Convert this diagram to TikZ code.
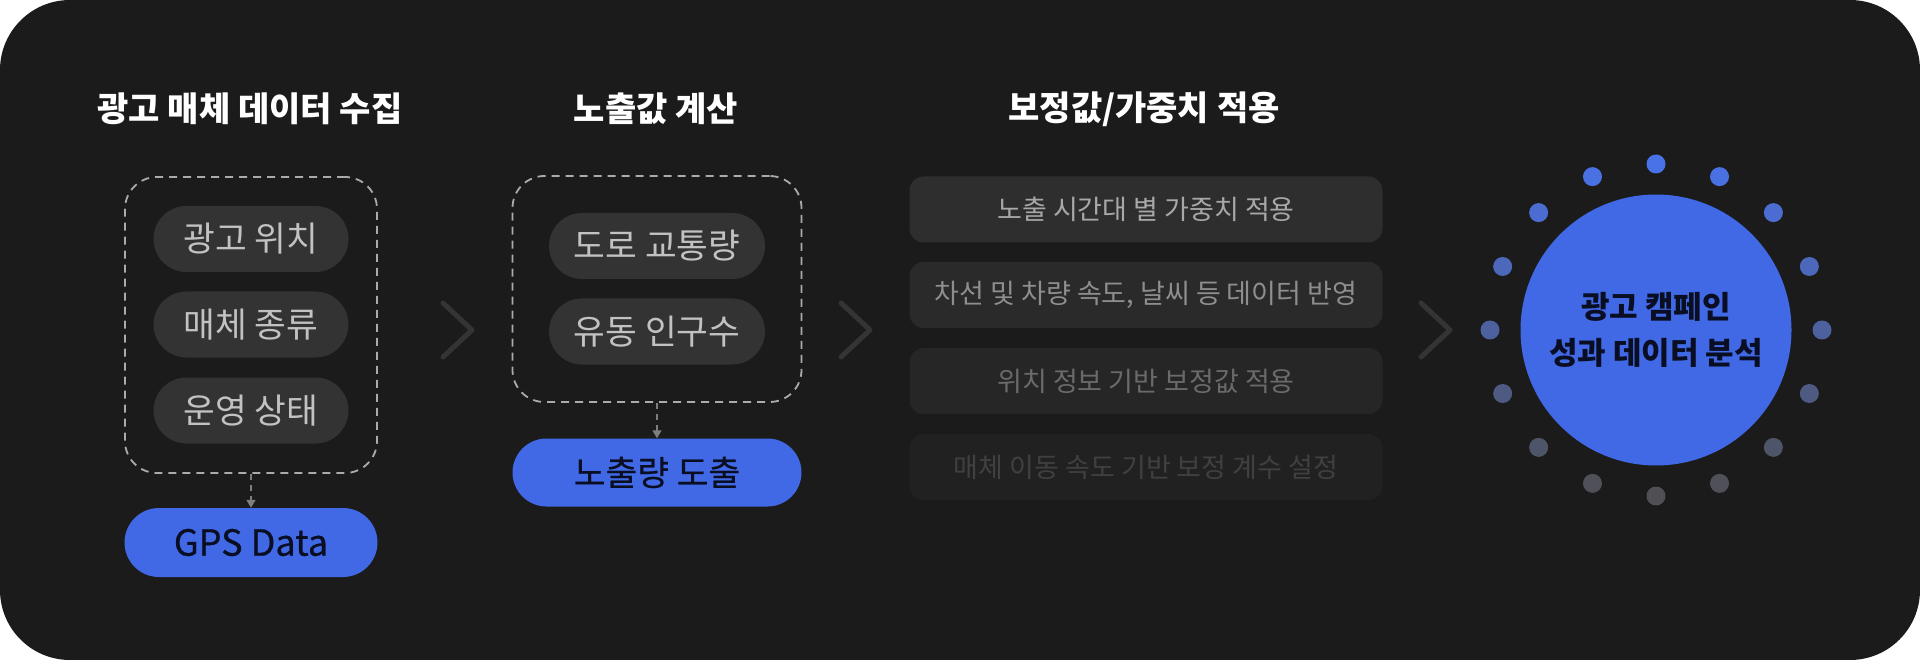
\documentclass[tikz,border=0pt]{standalone}
\usepackage{fontspec}
\setmainfont{Noto Sans CJK KR}
\newfontfamily\krmed[FakeBold=0.6]{Noto Sans CJK KR}
\usetikzlibrary{arrows.meta}
\definecolor{bgc}{HTML}{1B1B1B}
\definecolor{pillc}{HTML}{333333}
\definecolor{pilltext}{HTML}{C2C2C2}
\definecolor{dashc}{HTML}{ABABAB}
\definecolor{arrc}{HTML}{7E7E7E}
\definecolor{bluec}{HTML}{4169E6}
\definecolor{navyc}{HTML}{0A0E22}
\definecolor{chevc}{HTML}{343434}
\definecolor{rowfa}{HTML}{2E2E2E}
\definecolor{rowfb}{HTML}{2A2A2A}
\definecolor{rowfc}{HTML}{262626}
\definecolor{rowfd}{HTML}{212121}
\definecolor{rowta}{HTML}{A8A8A8}
\definecolor{rowtb}{HTML}{8E8E8E}
\definecolor{rowtc}{HTML}{6A6A6A}
\definecolor{rowtd}{HTML}{404040}
\definecolor{dtop}{HTML}{4A72E8}
\definecolor{dbot}{HTML}{505054}
\tikzset{
  title/.style={text=white, font=\bfseries\fontsize{34}{40}\selectfont, inner sep=0pt},
  graypill/.style={fill=pillc, text=pilltext, minimum width=195pt, minimum height=66pt,
    rounded corners=33pt, inner sep=0pt, font=\fontsize{34.5}{40}\selectfont},
  bluepill/.style={fill=bluec, text=navyc, minimum width=289pt, minimum height=68pt,
    rounded corners=34pt, inner sep=0pt, font=\krmed\fontsize{34.5}{40}\selectfont},
  dashbox/.style={draw=dashc, line width=1.8pt, dash pattern=on 8pt off 6pt,
    rounded corners=32pt, inner sep=0pt},
  dasharrow/.style={draw=arrc, line width=1.6pt, dash pattern=on 6pt off 5pt,
    -{Triangle[width=9pt,length=8pt]}},
  rowbox/.style={minimum width=473pt, minimum height=66pt, rounded corners=14pt,
    inner sep=0pt, font=\fontsize{27}{32}\selectfont},
  chev/.style={draw=chevc, line width=5pt, line cap=round, line join=round},
}
\begin{document}
\begin{tikzpicture}[x=1pt,y=-1pt]
\useasboundingbox (0,0) rectangle (1920,660);
\fill[white] (0,0) rectangle (1920,660);
\fill[bgc, rounded corners=70pt] (0,0) rectangle (1920,660);

% titles
\node[title] (t1) at (250,109) {광고 매체 데이터 수집};
\node[title] (t2) at (656,109) {노출값 계산};
\node[title] (t3) at (1144,109) {보정값/가중치 적용};

% stage 1
\node[dashbox, minimum width=252pt, minimum height=296pt] (box1) at (251,325) {};
\node[graypill] (p1) at (251,239) {광고 위치};
\node[graypill] (p2) at (251,324.5) {매체 종류};
\node[graypill] (p3) at (251,410.5) {운영 상태};
\node[bluepill, minimum width=253pt, minimum height=69pt, rounded corners=34.5pt,
  font=\krmed\fontsize{36}{42}\selectfont] (gps) at (251,542.5) {GPS Data};
\draw[dasharrow] (box1.south) -- (gps.north);

% stage 2
\node[dashbox, minimum width=289pt, minimum height=226pt] (box2) at (657,289) {};
\node[graypill, minimum width=216pt] (q1) at (657,246) {도로 교통량};
\node[graypill, minimum width=216pt] (q2) at (657,331.5) {유동 인구수};
\node[bluepill] (out2) at (657,472.5) {노출량 도출};
\draw[dasharrow] (box2.south) -- (out2.north);

% stage 3
\node[rowbox, fill=rowfa, text=rowta] (r1) at (1146,209.5) {노출 시간대 별 가중치 적용};
\node[rowbox, fill=rowfb, text=rowtb] (r2) at (1146,295) {차선 및 차량 속도, 날씨 등 데이터 반영};
\node[rowbox, fill=rowfc, text=rowtc] (r3) at (1146,381) {위치 정보 기반 보정값 적용};
\node[rowbox, fill=rowfd, text=rowtd] (r4) at (1146,467) {매체 이동 속도 기반 보정 계수 설정};

% chevrons
\draw[chev] (443,303) -- (472,330) -- (443,357);
\draw[chev] (841,303) -- (870,330) -- (841,357);
\draw[chev] (1421,303) -- (1450,330) -- (1421,357);

% goal circle with dots
\foreach \i in {0,...,15}{
  \pgfmathsetmacro\th{\i*22.5}
  \pgfmathtruncatemacro\p{50+50*cos(\th)}
  \fill[dtop!\p!dbot] ({1656+166*sin(\th)},{330-166*cos(\th)}) circle[radius=9.5pt];
}
\node[circle, fill=bluec, minimum size=271pt, inner sep=0pt, text=navyc, align=center,
  font=\bfseries\fontsize{31}{46}\selectfont] (goal) at (1656,330) {광고 캠페인\\성과 데이터 분석};
\end{tikzpicture}
\end{document}
